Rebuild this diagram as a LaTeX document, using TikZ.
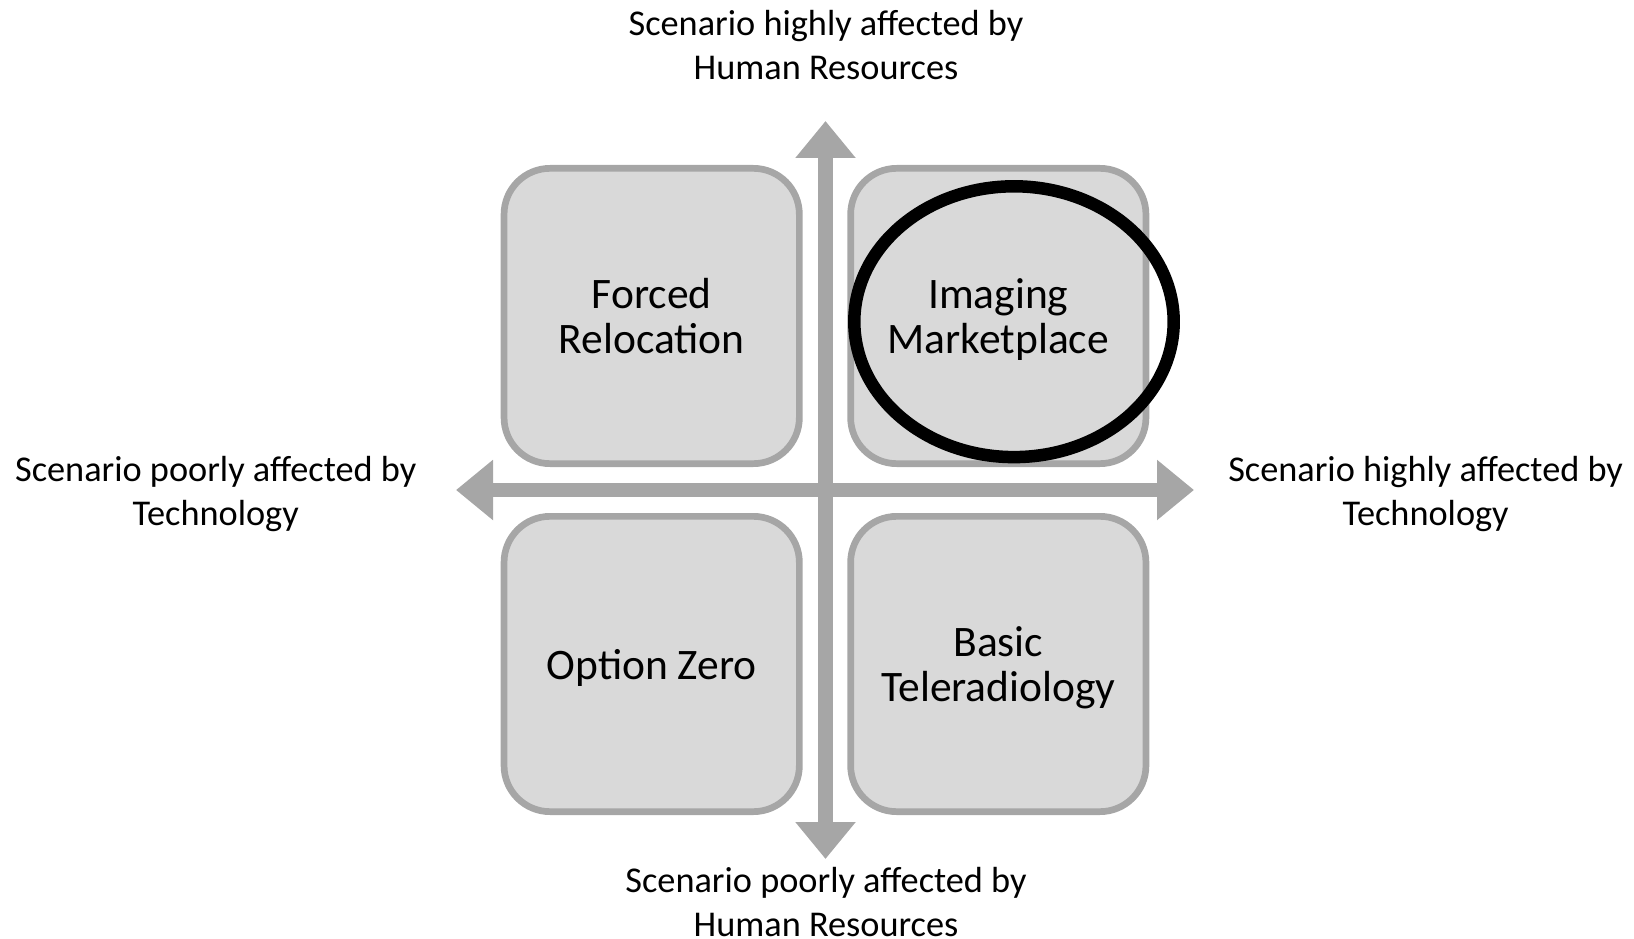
\documentclass[tikz,border=0pt]{standalone}
\usepackage{fontspec}
\setmainfont{Carlito}
\usetikzlibrary{arrows.meta,shapes.geometric}
\definecolor{boxfill}{HTML}{D9D9D9}
\definecolor{boxline}{HTML}{A6A6A6}
\begin{document}
\begin{tikzpicture}[x=1pt,y=-1pt,
  quadrant/.style={draw=boxline,fill=boxfill,line width=6.7pt,rounded corners=46pt,
    minimum width=295.3pt,minimum height=295.3pt,align=center,inner sep=0pt,
    text depth=0pt,font=\fontsize{43.5}{45}\selectfont},
  axislabel/.style={align=center,inner sep=0pt,font=\fontsize{36.3}{43.5}\selectfont},
  axis/.style={draw=boxline,line width=14.5pt,
    {Triangle[width=58pt,length=37pt]}-{Triangle[width=58pt,length=37pt]}}]
  \useasboundingbox (0,0) rectangle (1634,939);

  % two axes crossing at the centre
  \coordinate (top) at (825.5,121);
  \coordinate (bottom) at (825.5,859);
  \coordinate (left) at (456,490);
  \coordinate (right) at (1194,490);
  \draw[axis] (bottom) -- (top);
  \draw[axis] (left) -- (right);

  % the four scenarios
  \node[quadrant] (fr) at (651.7,316) {Forced\\Relocation};
  \node[quadrant] (im) at (998.3,316) {Imaging\\Marketplace};
  \node[quadrant] (oz) at (651.7,664) {Option Zero};
  \node[quadrant] (bt) at (998.3,664) {Basic\\Teleradiology};

  % highlighted scenario
  \node[ellipse,draw=black,line width=12.5pt,minimum width=319.4pt,minimum height=270.8pt,
    inner sep=0pt] (ring) at (1014,321.7) {};

  % axis labels
  \node[axislabel] (hrhigh) at (826,45) {Scenario highly affected by\\Human Resources};
  \node[axislabel] (hrlow) at (826,902) {Scenario poorly affected by\\Human Resources};
  \node[axislabel] (techlow) at (215.7,494) {Scenario poorly affected by\\Technology};
  \node[axislabel] (techhigh) at (1425.6,494) {Scenario highly affected by\\Technology};
\end{tikzpicture}
\end{document}
